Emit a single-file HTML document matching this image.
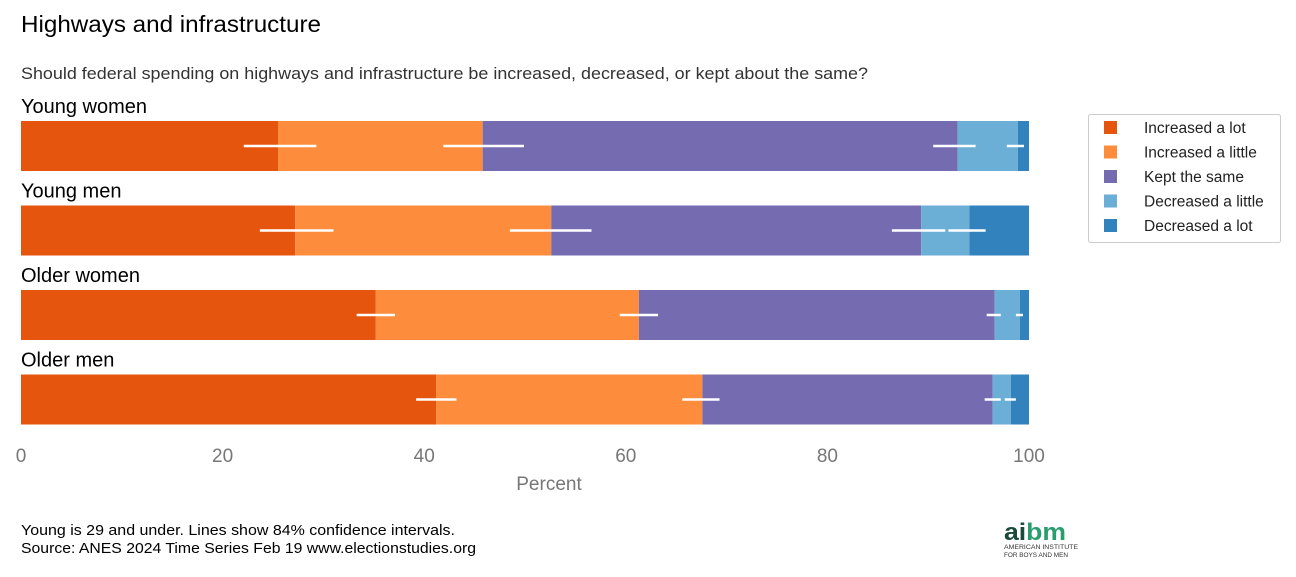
<!DOCTYPE html>
<html><head><meta charset="utf-8"><style>
body{margin:0;background:#fff;font-family:"Liberation Sans",sans-serif;}
svg text{font-family:"Liberation Sans",sans-serif;}
</style></head><body>
<svg id="c" width="1296" height="572" xmlns="http://www.w3.org/2000/svg">
<text x="21" y="32" font-size="23" fill="#000" textLength="300" lengthAdjust="spacingAndGlyphs">Highways and infrastructure</text>
<text x="21" y="79" font-size="16.5" fill="#333" textLength="847" lengthAdjust="spacingAndGlyphs">Should federal spending on highways and infrastructure be increased, decreased, or kept about the same?</text>
<g id="bars"></g>
<g id="axis"></g>
<text x="549" y="490" font-size="19" fill="#777" text-anchor="middle">Percent</text>
<g id="legend">
<rect x="1088.5" y="114.5" width="192" height="128" fill="#fff" stroke="#ccc" rx="2"/>
</g>
<text x="21" y="535" font-size="15" fill="#000" textLength="434" lengthAdjust="spacingAndGlyphs">Young is 29 and under. Lines show 84% confidence intervals.</text>
<text x="21" y="553" font-size="15" fill="#000" textLength="455" lengthAdjust="spacingAndGlyphs">Source: ANES 2024 Time Series Feb 19 www.electionstudies.org</text>
<g>
<text x="1004" y="540" font-size="24" font-weight="bold" fill="#1a4a3a" textLength="62" lengthAdjust="spacingAndGlyphs">ai<tspan fill="#2a9d6f">bm</tspan></text>
<text x="1004" y="549" font-size="6.5" fill="#333" textLength="74" lengthAdjust="spacingAndGlyphs">AMERICAN INSTITUTE</text>
<text x="1004" y="557" font-size="6.5" fill="#333" textLength="64" lengthAdjust="spacingAndGlyphs">FOR BOYS AND MEN</text>
</g>
</svg>
<script>
const groups=["Young women","Young men","Older women","Older men"];
const categories=["Increased a lot","Increased a little","Kept the same","Decreased a little","Decreased a lot"];
const increasedLot=[25.5,27.2,35.2,41.2];
const increasedLittle=[20.3,25.4,26.1,26.4];
const keptSame=[47.1,36.7,35.3,28.8];
const decreasedLittle=[6.0,4.8,2.5,1.8];
const decreasedLot=[1.1,5.9,0.9,1.8];
const ciLo=[[22.1,41.9,90.5,97.8],[23.7,48.5,86.4,92.0],[33.3,59.4,95.8,98.7],[39.2,65.6,95.6,97.6]];
const ciHi=[[29.3,49.9,94.7,99.5],[31.0,56.6,91.7,95.7],[37.1,63.2,97.2,99.4],[43.2,69.3,97.2,98.7]];
const ticks=[0,20,40,60,80,100];
const colors=["#E6550D","#FD8D3C","#756BB1","#6BAED6","#3182BD"];
const NS="http://www.w3.org/2000/svg";
const x=v=>21+v*10.08;
const yTop=i=>121+i*84.5;
function mk(t,a,p){const e=document.createElementNS(NS,t);for(const k in a)e.setAttribute(k,a[k]);p.appendChild(e);return e;}
const series=[increasedLot,increasedLittle,keptSame,decreasedLittle,decreasedLot];
const bg=document.getElementById('bars');
groups.forEach((g,i)=>{
  const lab=mk('text',{x:21,y:yTop(i)-8,'font-size':20,fill:'#000'},bg);lab.textContent=g;
  
  
  let cum=0;
  series.forEach((s,j)=>{
    const r=mk('rect',{x:x(cum),y:yTop(i),width:s[i]*10.08,height:50,fill:colors[j]},bg);
    
    
    cum+=s[i];
  });
  ciLo[i].forEach((lo,k)=>{
    const l=mk('line',{x1:x(lo),x2:x(ciHi[i][k]),y1:yTop(i)+25,y2:yTop(i)+25,stroke:'#fff','stroke-width':2.5},bg);
    
    
  });
});
const ax=document.getElementById('axis');
ticks.forEach(t=>{
  const tx=mk('text',{x:x(t),y:462,'font-size':19,fill:'#777','text-anchor':'middle'},ax);tx.textContent=t;
  
  
});
const lg=document.getElementById('legend');
categories.forEach((c,j)=>{
  const y=128+j*24.5;
  const r=mk('rect',{x:1104,y:y-7,width:13,height:13,fill:colors[j]},lg);
  
  
  const t=mk('text',{x:1144,y:y+5,'font-size':15.5,fill:'#222'},lg);t.textContent=c;
  
  
});
</script>
</body></html>
